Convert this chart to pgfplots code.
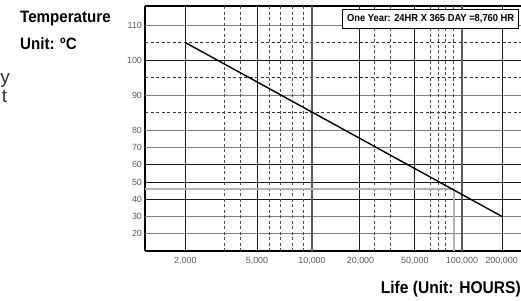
\documentclass[border=0pt]{standalone}
\usepackage{pgfplots}
\pgfplotsset{compat=1.18}
\usepackage{fontspec}
\setmainfont{Liberation Sans}
\newfontfamily\condfont[FakeStretch=0.92]{Liberation Sans}
\definecolor{lbl}{HTML}{5A5A5A}
\definecolor{frag}{HTML}{333333}
\begin{document}
\begin{tikzpicture}
\useasboundingbox (0bp,0bp) rectangle (521bp,-301bp);
% partial text fragments cut at the left edge
\node[anchor=base east, inner sep=0pt, text=frag, font=\fontsize{19}{20}\selectfont] at (10bp,-83.3bp) {y};
\node[anchor=base east, inner sep=0pt, text=frag, font=\fontsize{19}{20}\selectfont] at (7.4bp,-102.7bp) {t};
\node[anchor=base west, inner sep=0pt, font=\condfont\bfseries\fontsize{16.5}{17}\selectfont] at (20bp,-22.5bp) {Temperature};
\node[anchor=base west, inner sep=0pt, font=\condfont\bfseries\fontsize{16.5}{17}\selectfont] at (20bp,-49bp) {Unit: ºC};
\begin{axis}[
  at={(145bp,-251bp)}, anchor=south west,
  scale only axis, width=376bp, height=245bp,
  xmin=145, xmax=521, ymin=9.96, ymax=115.41,
  y coord trafo/.code={\pgfmathparse{(#1>80) ? (80+(#1-80)*2.0368) : (#1)}},
  axis x line*=box, axis y line*=left,
  axis line style={black, line width=2.2bp},
  major tick length=0pt,
  xtick={185.3,257,312,360.5,414.8,462,501.7},
  xticklabels={{2,000},{5,000},{10,000},{20,000},{50,000},{100,000},{200,000}},
  ytick={20,30,40,50,60,70,80,90,100,110},
  yticklabels={20,30,40,50,60,70,80,90,100,110},
  tick label style={font=\fontsize{9}{9}\selectfont, text=lbl},
  xticklabel style={yshift=-2.8bp},
  yticklabel style={xshift=0.5bp},
]
% horizontal grid
\pgfplotsinvokeforeach{110,90,80,70,30,20}{\draw[black!50, line width=0.9bp] (axis cs:145,#1) -- (axis cs:521,#1);}
\pgfplotsinvokeforeach{100,60,50,40}{\draw[black!90, line width=0.9bp] (axis cs:145,#1) -- (axis cs:521,#1);}
\pgfplotsinvokeforeach{105,95,85}{\draw[black!80, line width=0.8bp, dash pattern=on 3bp off 2.5bp] (axis cs:145,#1) -- (axis cs:521,#1);}
% vertical grid
\pgfplotsinvokeforeach{185.3,257,359.3,414.3,502}{\draw[black!90, line width=0.9bp] (axis cs:#1,9.96) -- (axis cs:#1,115.41);}
\pgfplotsinvokeforeach{312,462}{\draw[black!65, line width=1.4bp] (axis cs:#1,9.96) -- (axis cs:#1,115.41);}
\pgfplotsinvokeforeach{224.7,240,269,280,292,303.7,374.7,390.3,430,438,445.7,453.7}{\draw[black!70, line width=0.6bp, dash pattern=on 3bp off 2.5bp] (axis cs:#1,9.96) -- (axis cs:#1,115.41);}
% read-off marker at 46 C
\addplot[black!30, line width=2bp] coordinates {(145,46.1) (453.7,46.1) (453.7,9.96)};
% life line
\addplot[black, line width=1.4bp] coordinates {(185.3,105) (502,30)};
\end{axis}
\draw[line width=0.9bp, fill=white] (342.7bp,-9.5bp) rectangle (518.7bp,-28bp);
\node[inner sep=0pt, font=\condfont\bfseries\fontsize{10.2}{11}\selectfont] at (430.7bp,-18.8bp) {One Year: 24HR X 365 DAY =8,760 HR};
\node[anchor=base east, inner sep=0pt, font=\condfont\bfseries\fontsize{17}{18}\selectfont] at (521bp,-293bp) {Life (Unit: HOURS)};
\end{tikzpicture}
\end{document}
